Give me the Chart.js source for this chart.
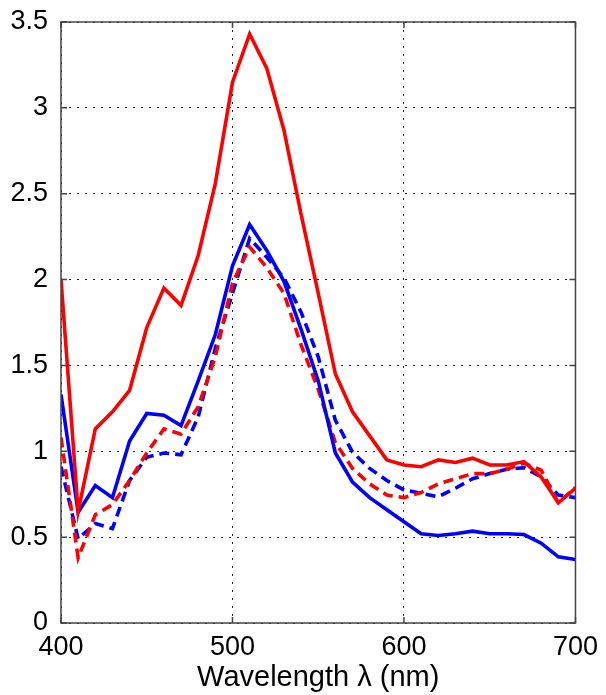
<!DOCTYPE html>
<html>
<head>
<meta charset="utf-8">
<script src="https://cdn.jsdelivr.net/npm/chart.js@4.4.0/dist/chart.umd.min.js"></script>
<style>
  html, body { margin: 0; padding: 0; background: #fff; }
  #wrap { width: 606px; height: 695px; }
</style>
</head>
<body>
<div id="wrap"><canvas id="spectrum" width="606" height="695"></canvas></div>
<script>
// wavelength samples (nm)
const wavelengths = [400, 410, 420, 430, 440, 450, 460, 470, 480, 490, 500,
    510, 520, 530, 540, 550, 560, 570, 580, 590, 600,
    610, 620, 630, 640, 650, 660, 670, 680, 690, 700];

const redSolid = [2.00, 0.65, 1.13, 1.23, 1.355, 1.72, 1.95, 1.85, 2.14, 2.56, 3.15,
    3.43, 3.23, 2.87, 2.38, 1.92, 1.45, 1.23, 1.09, 0.95, 0.92,
    0.91, 0.95, 0.935, 0.96, 0.92, 0.92, 0.94, 0.85, 0.70, 0.785];

const blueSolid = [1.33, 0.645, 0.80, 0.73, 1.06, 1.22, 1.21, 1.15, 1.41, 1.68, 2.08,
    2.32, 2.17, 1.99, 1.71, 1.41, 0.99, 0.82, 0.73, 0.66, 0.59,
    0.52, 0.51, 0.52, 0.535, 0.52, 0.52, 0.515, 0.465, 0.385, 0.37];

const redDashed = [1.08, 0.38, 0.63, 0.69, 0.83, 0.99, 1.13, 1.10, 1.26, 1.55, 1.98,
    2.19, 2.07, 1.92, 1.62, 1.36, 1.05, 0.90, 0.81, 0.745, 0.73,
    0.76, 0.81, 0.84, 0.87, 0.87, 0.895, 0.93, 0.89, 0.70, 0.79];

const blueDashed = [0.91, 0.49, 0.58, 0.55, 0.83, 0.965, 0.99, 0.98, 1.20, 1.60, 1.92,
    2.24, 2.13, 2.01, 1.81, 1.55, 1.18, 0.995, 0.90, 0.83, 0.775,
    0.755, 0.735, 0.785, 0.84, 0.87, 0.895, 0.905, 0.85, 0.745, 0.73];

const xTicks = [400, 500, 600, 700];
const yTicks = [0, 0.5, 1, 1.5, 2, 2.5, 3, 3.5];

const toPoints = (values) => values.map((v, i) => ({ x: wavelengths[i], y: v }));

const lineStyle = (color, dashed) => ({
    borderColor: color,
    borderWidth: 3.6,
    borderDash: dashed ? [10, 6] : [],
    pointRadius: 0,
    tension: 0,
    fill: false,
});

// box around the plot with short inward ticks
const frame = {
    id: 'frame',
    afterDraw(chart) {
        const { ctx, chartArea: a, scales } = chart;
        ctx.save();
        ctx.strokeStyle = '#444';
        ctx.lineWidth = 1.5;
        ctx.setLineDash([]);
        ctx.strokeRect(a.left, a.top, a.right - a.left, a.bottom - a.top);
        ctx.beginPath();
        xTicks.forEach((t) => {
            const px = scales.x.getPixelForValue(t);
            ctx.moveTo(px, a.bottom); ctx.lineTo(px, a.bottom - 6);
            ctx.moveTo(px, a.top); ctx.lineTo(px, a.top + 6);
        });
        yTicks.forEach((t) => {
            const py = scales.y.getPixelForValue(t);
            ctx.moveTo(a.left, py); ctx.lineTo(a.left + 6, py);
            ctx.moveTo(a.right, py); ctx.lineTo(a.right - 6, py);
        });
        ctx.stroke();
        ctx.restore();
    },
};

const family = '"Liberation Sans", Arial, sans-serif';
const xTickFont = { family, size: 27 };
// small lineHeight keeps the top label from pushing the plot down
const yTickFont = { family, size: 27, lineHeight: 0.6 };

new Chart(document.getElementById('spectrum').getContext('2d'), {
    type: 'line',
    data: {
        datasets: [
            { data: toPoints(redSolid), ...lineStyle('#ff0000', false) },
            { data: toPoints(blueSolid), ...lineStyle('#0000ff', false) },
            { data: toPoints(redDashed), ...lineStyle('#ff0000', true) },
            { data: toPoints(blueDashed), ...lineStyle('#0000ff', true) },
        ],
    },
    options: {
        responsive: false,
        animation: false,
        layout: { padding: { left: 0, right: 29, top: 22, bottom: 0 } },
        plugins: { legend: { display: false }, tooltip: { enabled: false } },
        scales: {
            x: {
                type: 'linear',
                min: 400,
                max: 700,
                afterBuildTicks: (scale) => { scale.ticks = xTicks.map((v) => ({ value: v })); },
                afterFit: (scale) => { scale.height = 72; },
                grid: { color: '#222', lineWidth: 1, drawTicks: false },
                border: { display: false, dash: [2, 6] },
                ticks: { color: '#000', font: xTickFont, padding: 8, maxRotation: 0 },
                title: {
                    display: true,
                    text: 'Wavelength λ (nm)',
                    color: '#000',
                    font: { family, size: 29 },
                    padding: { top: 0, bottom: 0 },
                },
            },
            y: {
                type: 'linear',
                min: 0,
                max: 3.5,
                afterBuildTicks: (scale) => { scale.ticks = yTicks.map((v) => ({ value: v })); },
                afterFit: (scale) => { scale.width = 61; },
                grid: { color: '#222', lineWidth: 1, drawTicks: false },
                border: { display: false, dash: [2, 6] },
                ticks: { color: '#000', font: yTickFont, padding: 13, callback: (v) => String(v) },
            },
        },
    },
    plugins: [frame],
});
</script>
</body>
</html>
